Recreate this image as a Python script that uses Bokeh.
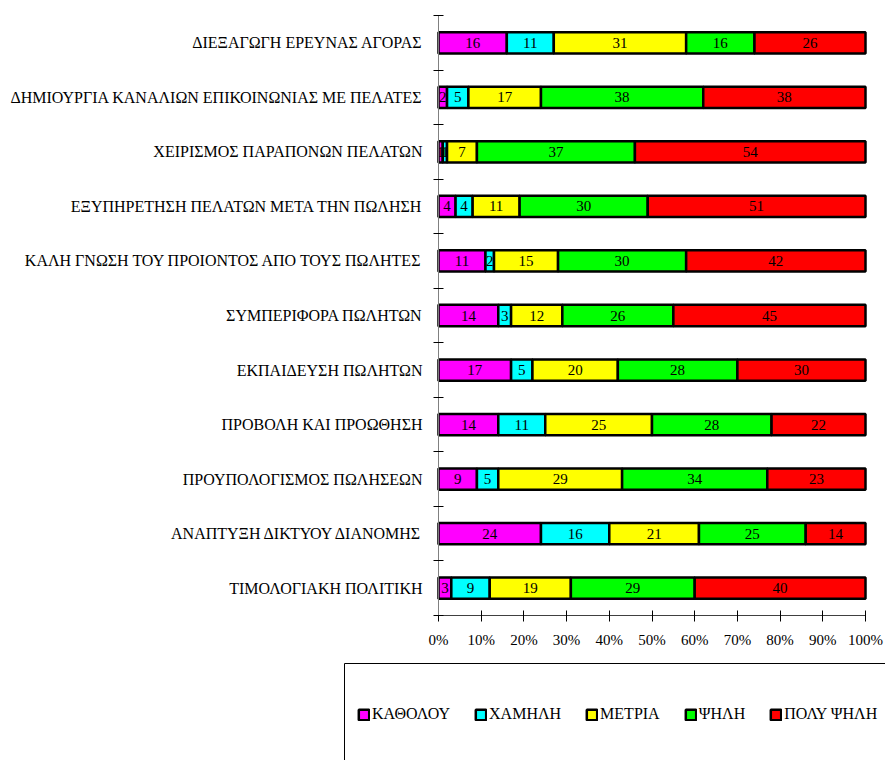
from bokeh.plotting import figure
from bokeh.models import (Range1d, FixedTicker, PrintfTickFormatter, Legend,
                          LegendItem, BoxAnnotation, ColumnDataSource, LinearAxis)
from bokeh.core.properties import value
from bokeh.embed import file_html
from bokeh.resources import INLINE

categories = [
    "ΔΙΕΞΑΓΩΓΗ ΕΡΕΥΝΑΣ ΑΓΟΡΑΣ",
    "ΔΗΜΙΟΥΡΓΙΑ ΚΑΝΑΛΙΩΝ ΕΠΙΚΟΙΝΩΝΙΑΣ ΜΕ ΠΕΛΑΤΕΣ",
    "ΧΕΙΡΙΣΜΟΣ ΠΑΡΑΠΟΝΩΝ ΠΕΛΑΤΩΝ",
    "ΕΞΥΠΗΡΕΤΗΣΗ ΠΕΛΑΤΩΝ ΜΕΤΑ ΤΗΝ ΠΩΛΗΣΗ",
    "ΚΑΛΗ ΓΝΩΣΗ ΤΟΥ ΠΡΟΙΟΝΤΟΣ ΑΠΟ ΤΟΥΣ ΠΩΛΗΤΕΣ",
    "ΣΥΜΠΕΡΙΦΟΡΑ ΠΩΛΗΤΩΝ",
    "ΕΚΠΑΙΔΕΥΣΗ ΠΩΛΗΤΩΝ",
    "ΠΡΟΒΟΛΗ ΚΑΙ ΠΡΟΩΘΗΣΗ",
    "ΠΡΟΥΠΟΛΟΓΙΣΜΟΣ ΠΩΛΗΣΕΩΝ",
    "ΑΝΑΠΤΥΞΗ ΔΙΚΤΥΟΥ ΔΙΑΝΟΜΗΣ",
    "ΤΙΜΟΛΟΓΙΑΚΗ ΠΟΛΙΤΙΚΗ",
]
series_names = ["ΚΑΘΟΛΟΥ", "ΧΑΜΗΛΗ", "ΜΕΤΡΙΑ", "ΨΗΛΗ", "ΠΟΛΥ ΨΗΛΗ"]
katholou = [16, 2, 1, 4, 11, 14, 17, 14, 9, 24, 3]
chamili = [11, 5, 1, 4, 2, 3, 5, 11, 5, 16, 9]
metria = [31, 17, 7, 11, 15, 12, 20, 25, 29, 21, 19]
psili = [16, 38, 37, 30, 30, 26, 28, 28, 34, 25, 29]
poly_psili = [26, 38, 54, 51, 42, 45, 30, 22, 23, 14, 40]
series_values = [katholou, chamili, metria, psili, poly_psili]
colors = ["#FF00FF", "#00FFFF", "#FFFF00", "#00FF00", "#FF0000"]
x_ticks = [0, 10, 20, 30, 40, 50, 60, 70, 80, 90, 100]

FONT = "Liberation Serif"
GREEK_SIZE = "16px"
n = len(categories)
centers = [n - i - 0.5 for i in range(n)]
totals = [sum(s[i] for s in series_values) for i in range(n)]

# canvas layout (pixels): plot area 438..865 horizontally, 15..615 vertically
W, H = 885, 760
PL, PR, PT, PB = 438, 865, 15, 615
xs = (PR - PL) / 100.0
ys = (PB - PT) / n
x_range = Range1d(-PL / xs, (W - PL) / xs)
y_range = Range1d(-(H - PB) / ys, n + PT / ys)

p = figure(width=W, height=H, x_range=x_range, y_range=y_range,
           output_backend="svg", toolbar_location=None,
           x_axis_location=None, y_axis_location=None,
           min_border=0, min_border_left=0, min_border_right=0,
           min_border_top=0, min_border_bottom=0)
p.xgrid.visible = False
p.ygrid.visible = False
p.outline_line_color = None
p.background_fill_color = "white"
p.border_fill_color = "white"

renderers = []
cum = [0.0] * n
for name, vals, col in zip(series_names, series_values, colors):
    pct = [v / t * 100 for v, t in zip(vals, totals)]
    left = cum[:]
    right = [a + b for a, b in zip(left, pct)]
    mid = [(a + b) / 2 for a, b in zip(left, right)]
    src = ColumnDataSource(dict(y=centers, left=left, right=right, mid=mid,
                                txt=[str(v) for v in vals]))
    r = p.hbar(y="y", left="left", right="right", height=0.39, source=src,
               fill_color=col, line_color="black", line_width=2.5)
    renderers.append(r)
    p.text(x="mid", y="y", text="txt", source=src, text_align="center",
           text_baseline="middle", text_font=value(FONT), text_font_size="15px",
           text_color="black")
    cum = right

yax = LinearAxis(fixed_location=0, bounds=(0, n))
yax.ticker = FixedTicker(ticks=centers, minor_ticks=list(range(n + 1)))
yax.major_label_overrides = {c: cat for c, cat in zip(centers, categories)}
yax.major_tick_line_color = None
yax.major_tick_in = 0
yax.major_tick_out = 0
yax.minor_tick_line_color = "black"
yax.minor_tick_in = 5
yax.minor_tick_out = 5
yax.axis_line_color = "#808080"
yax.major_label_standoff = 11
yax.major_label_text_font = FONT
yax.major_label_text_font_size = GREEK_SIZE
yax.major_label_text_color = "black"
p.add_layout(yax, "left")

xax = LinearAxis(fixed_location=0, bounds=(0, 100))
xax.ticker = FixedTicker(ticks=x_ticks)
xax.formatter = PrintfTickFormatter(format="%d%%")
xax.major_tick_in = 5
xax.major_tick_out = 6
xax.major_tick_line_color = "black"
xax.minor_tick_line_color = None
xax.axis_line_color = "#404040"
xax.major_label_standoff = 10
xax.major_label_text_font = FONT
xax.major_label_text_font_size = "15px"
xax.major_label_text_color = "black"
p.add_layout(xax, "below")

# legend frame: open past the bottom/right edges of the picture
p.add_layout(BoxAnnotation(left=344, right=905, top=663, bottom=800,
                           left_units="canvas", right_units="canvas",
                           top_units="canvas", bottom_units="canvas",
                           fill_alpha=0, line_color="black", line_alpha=1,
                           line_width=1))

items = [LegendItem(label=name, renderers=[r]) for name, r in zip(series_names, renderers)]
legend = Legend(items=items, orientation="horizontal", location=(357, 37),
                padding=0, margin=0, spacing=24, glyph_width=13, glyph_height=13,
                label_standoff=2, label_height=17, label_text_font=FONT,
                label_text_font_size=GREEK_SIZE, label_text_color="black",
                border_line_color=None, background_fill_alpha=0)
p.add_layout(legend)

open("out.html", "w").write(file_html(p, INLINE))
